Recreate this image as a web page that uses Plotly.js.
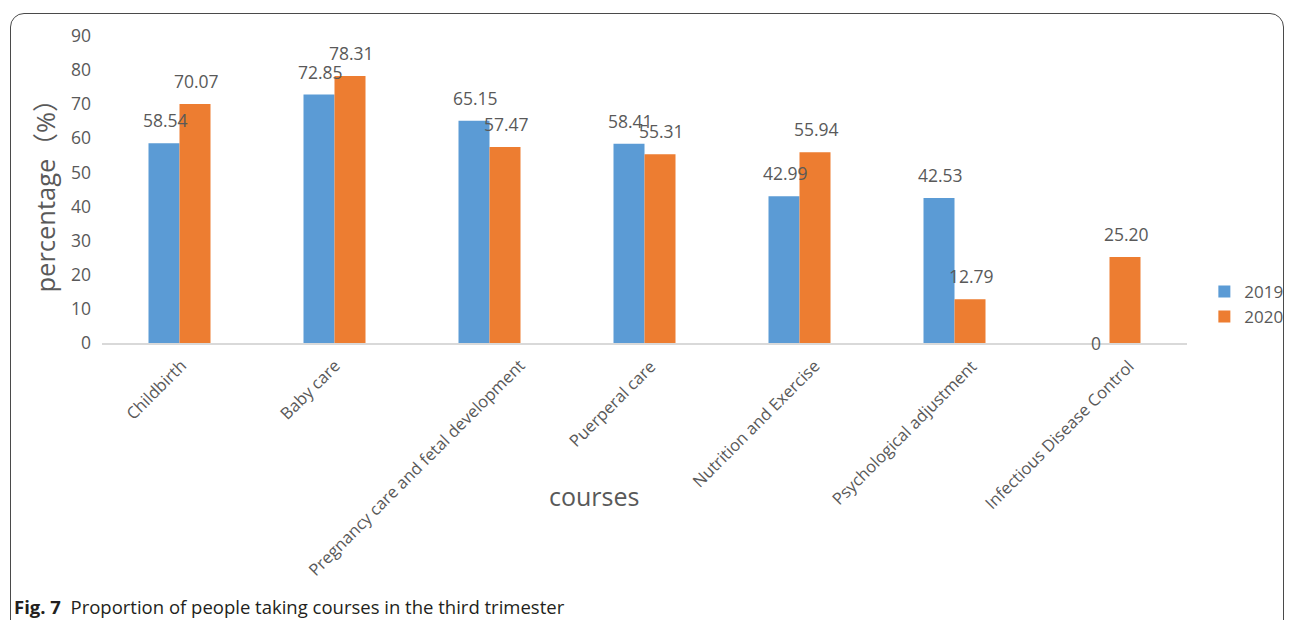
<!DOCTYPE html>
<html>
<head>
<meta charset="utf-8">
<script src="https://cdn.plot.ly/plotly-3.0.1.min.js"></script>
<style>
  html, body { margin: 0; padding: 0; background: #fff; }
  #wrap { position: relative; width: 1293px; height: 620px; overflow: hidden; }
  #chart { position: absolute; left: 0; top: 0; width: 1293px; height: 620px; }
  #frame { position: absolute; left: 10px; top: 13px; width: 1272px; height: 700px;
           border: 1.3px solid #4a4a4a; border-radius: 14px; pointer-events: none; }
</style>
</head>
<body>
<div id="wrap">
  <div id="chart"></div>
  <div id="frame"></div>
</div>
<script>
const categories = ["Childbirth", "Baby care", "Pregnancy care and fetal development",
  "Puerperal care", "Nutrition and Exercise", "Psychological adjustment", "Infectious Disease Control"];
const values2019 = [58.54, 72.85, 65.15, 58.41, 42.99, 42.53, 0];
const values2020 = [70.07, 78.31, 57.47, 55.31, 55.94, 12.79, 25.20];
const labels2019 = ["58.54", "72.85", "65.15", "58.41", "42.99", "42.53", "0"];
const labels2020 = ["70.07", "78.31", "57.47", "55.31", "55.94", "12.79", "25.20"];
const seriesNames = ["2019", "2020"];
const yTicks = [0, 10, 20, 30, 40, 50, 60, 70, 80, 90];

const blue = "#5b9bd5", orange = "#ed7d31", grey = "#595959";
const fontFam = "'Open Sans', 'Noto Sans', 'Noto Sans CJK SC', sans-serif";

const traces = [
  { type: "bar", name: seriesNames[0], x: categories, y: values2019, marker: { color: blue }, offsetgroup: "a" },
  { type: "bar", name: seriesNames[1], x: categories, y: values2020, marker: { color: orange }, offsetgroup: "b" }
];

const annotations = [];
function addLabels(vals, labs, xshift) {
  vals.forEach((v, i) => {
    annotations.push({
      x: categories[i], y: v, xref: "x", yref: "y", text: labs[i], showarrow: false,
      xanchor: "center", yanchor: "bottom", xshift: xshift, yshift: v === 0 ? -14 : 9,
      font: { size: 17.5, color: grey, family: fontFam }
    });
  });
}
addLabels(values2019, labels2019, -14);
addLabels(values2020, labels2020, 17);

// Category labels, rotated like the original (longer labels sit further right of their slot)
categories.forEach((c) => {
  annotations.push({
    x: c, y: 0, xref: "x", yref: "y", text: c, showarrow: false, textangle: -45,
    xanchor: "right", yanchor: "top", xshift: 1.1 * c.length + 3, yshift: -9,
    font: { size: 16.6, color: grey, family: fontFam }
  });
});

annotations.push({
  xref: "paper", yref: "paper", x: 0.4535, y: -0.498, text: "courses", showarrow: false,
  xanchor: "center", yanchor: "middle", font: { size: 25, color: grey, family: fontFam }
});
annotations.push({
  xref: "paper", yref: "paper", x: -0.083, y: -0.857, showarrow: false,
  text: "<b>Fig. 7</b>  Proportion of people taking courses in the third trimester",
  xanchor: "left", yanchor: "middle", font: { size: 18.5, color: "#231f20", family: fontFam }
});

const layout = {
  width: 1293, height: 620,
  margin: { l: 102, r: 106, t: 36, b: 277, autoexpand: false },
  paper_bgcolor: "rgba(0,0,0,0)", plot_bgcolor: "rgba(0,0,0,0)",
  barmode: "group", bargap: 0.6, bargroupgap: 0,
  font: { family: fontFam, color: grey },
  showlegend: true,
  legend: { x: 1.016, y: 0.225, xanchor: "left", yanchor: "top", font: { size: 17, color: grey },
            itemwidth: 30, bgcolor: "rgba(0,0,0,0)" },
  xaxis: {
    type: "category", showticklabels: false,
    showline: true, linecolor: "#d9d9d9", linewidth: 1.5, showgrid: false, zeroline: false, ticks: ""
  },
  yaxis: {
    range: [0, 90], tickvals: yTicks, ticktext: yTicks.map(String),
    tickfont: { size: 17.5, color: grey }, showgrid: false, zeroline: false, showline: false,
    ticks: "", ticklabelstandoff: 10,
    title: { text: "percentage（%）", font: { size: 25.5, color: grey }, standoff: 8 }
  },
  annotations: annotations
};

Plotly.newPlot("chart", traces, layout, { displayModeBar: false, staticPlot: true });
</script>
</body>
</html>
